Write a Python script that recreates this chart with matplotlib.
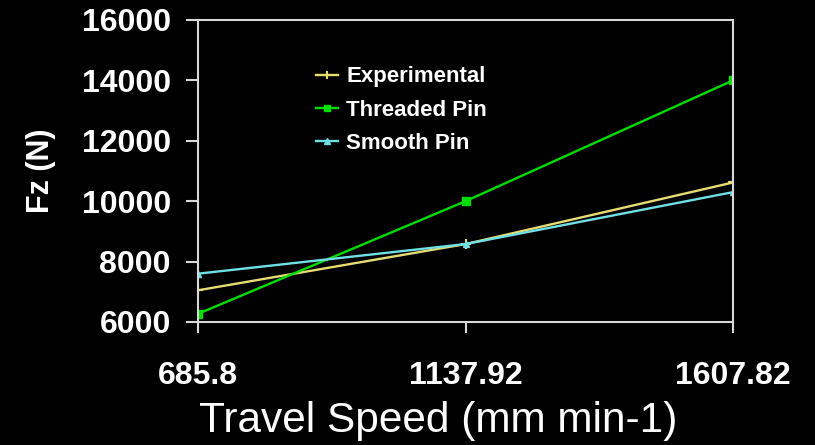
import matplotlib
matplotlib.use("Agg")
import matplotlib.pyplot as plt

categories = ["685.8", "1137.92", "1607.82"]
experimental = [7050, 8580, 10620]
threaded_pin = [6270, 10000, 14000]
smooth_pin = [7600, 8580, 10300]
yticks = [6000, 8000, 10000, 12000, 14000, 16000]

plt.rcParams['font.family'] = ['Liberation Sans', 'DejaVu Sans']

fig = plt.figure(figsize=(8.15, 4.45), dpi=100, facecolor='black')
ax = fig.add_axes([198/815, 1-322/445, (733-198)/815, (322-20)/445])
ax.set_facecolor('black')

x = list(range(len(categories)))
ax.plot(x, experimental, color='#E6DC72', lw=1.7, marker='+', ms=7, mew=1.5, label='Experimental')
ax.plot(x, threaded_pin, color='#00DD00', lw=1.7, marker='s', ms=6, label='Threaded Pin')
ax.plot(x, smooth_pin, color='#6FE0E6', lw=1.7, marker='^', ms=5, label='Smooth Pin')

ax.set_xlim(0, 2)
ax.set_ylim(6000, 16000)
ax.set_xticks(x)
ax.set_xticklabels(categories)
ax.set_yticks(yticks)
ax.set_yticklabels([str(v) for v in yticks])

for s in ax.spines.values():
    s.set_color('#D8D8D8')
    s.set_linewidth(1.5)

ax.tick_params(axis='y', colors='#D8D8D8', direction='out', length=8.5, width=1.5, pad=11, labelsize=23, labelcolor='white')
ax.tick_params(axis='x', colors='#D8D8D8', direction='out', length=8, width=1.5, pad=20, labelsize=23, labelcolor='white')
for lab in ax.get_xticklabels() + ax.get_yticklabels():
    lab.set_fontweight('bold')

fig.text(438/815, 1-421/445, "Travel Speed (mm min-1)", color='white', fontsize=30.5,
         ha='center', va='center')
fig.text(41/815, 1-171/445, "Fz (N)", color='white', fontsize=22, fontweight='bold',
         rotation=90, ha='center', va='center')

leg = ax.legend(loc='center left', bbox_to_anchor=(305/815, 1-110/445), bbox_transform=fig.transFigure,
                frameon=False, fontsize=16, handlelength=1.0, handletextpad=0.35,
                labelspacing=0.55, borderpad=0, markerscale=0.8)
for t in leg.get_texts():
    t.set_color('white')
    t.set_fontweight('bold')

fig.savefig('out.png', dpi=100, facecolor='black')
